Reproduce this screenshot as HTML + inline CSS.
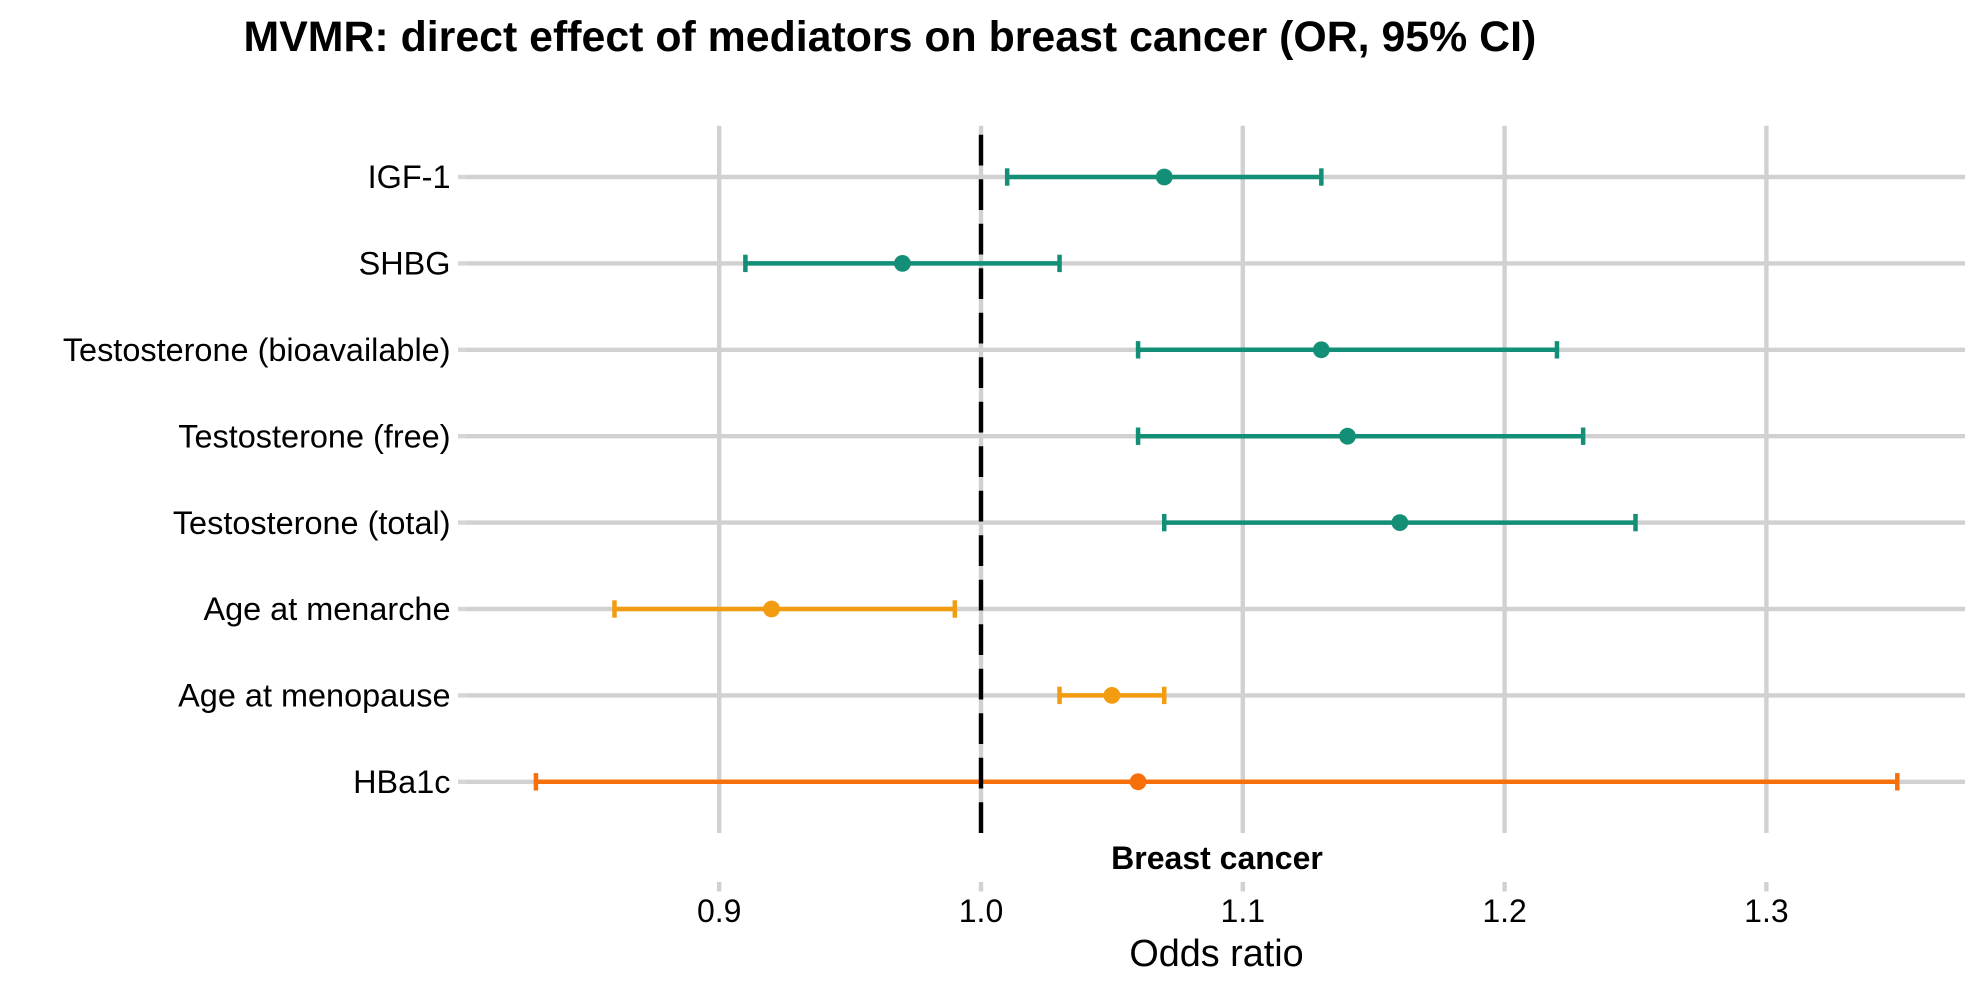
<!DOCTYPE html>
<html lang="en">
<head>
<meta charset="utf-8">
<title>MVMR forest plot</title>
<style>
  html, body { margin: 0; padding: 0; background: #ffffff; }
  body { width: 1984px; height: 992px; overflow: hidden; }
  svg { display: block; }
  text { font-family: "Liberation Sans", Arial, sans-serif; fill: #000000; }
</style>
</head>
<body>
<svg id="chart" xmlns="http://www.w3.org/2000/svg" width="1984" height="992" viewBox="0 0 1984 992">
  <rect x="0" y="0" width="1984" height="992" fill="#ffffff"/>
  <g id="grid"></g>
  <g id="series"></g>
  <g id="ref"></g>
  <g id="yaxis"></g>
  <g id="xaxis"></g>
  <text x="243.5" y="51" font-size="42.85" font-weight="700">MVMR: direct effect of mediators on breast cancer (OR, 95% CI)</text>
  <text x="1217" y="869" font-size="32" font-weight="700" text-anchor="middle">Breast cancer</text>
  <text x="1216.5" y="966" font-size="37.8" text-anchor="middle">Odds ratio</text>
</svg>
<script>
const categories = ["IGF-1", "SHBG", "Testosterone (bioavailable)", "Testosterone (free)", "Testosterone (total)", "Age at menarche", "Age at menopause", "HBa1c"];
const estimates = [1.07, 0.97, 1.13, 1.14, 1.16, 0.92, 1.05, 1.06];
const lowerCI = [1.01, 0.91, 1.06, 1.06, 1.07, 0.86, 1.03, 0.83];
const upperCI = [1.13, 1.03, 1.22, 1.23, 1.25, 0.99, 1.07, 1.35];
const groups = ["hormone", "hormone", "hormone", "hormone", "hormone", "reproductive", "reproductive", "glycaemic"];
const xTicks = [0.9, 1.0, 1.1, 1.2, 1.3];
const referenceValue = 1.0;

const groupColors = { hormone: "#148F77", reproductive: "#F39C12", glycaemic: "#F76F0A" };
const NS = "http://www.w3.org/2000/svg";
const GRID = "#d1d1d1";
const xScale = function (v) { return 981 + (v - 1) * 2618; };
const yScale = function (i) { return 177 + i * 86.4; };
const slug = function (s) { return s.toLowerCase().replace(/[^a-z0-9]+/g, "-").replace(/^-|-$/g, ""); };

function line(parent, x1, y1, x2, y2, color, width) {
  const el = document.createElementNS(NS, "line");
  el.setAttribute("x1", x1);
  el.setAttribute("y1", y1);
  el.setAttribute("x2", x2);
  el.setAttribute("y2", y2);
  el.setAttribute("stroke", color);
  el.setAttribute("stroke-width", width);
  parent.appendChild(el);
  return el;
}
function label(parent, x, y, size, anchor, content) {
  const el = document.createElementNS(NS, "text");
  el.setAttribute("x", x);
  el.setAttribute("y", y);
  el.setAttribute("font-size", size);
  el.setAttribute("text-anchor", anchor);
  el.textContent = content;
  parent.appendChild(el);
  return el;
}

const gridG = document.getElementById("grid");
const seriesG = document.getElementById("series");
const refG = document.getElementById("ref");
const yG = document.getElementById("yaxis");
const xG = document.getElementById("xaxis");

xTicks.forEach(function (t) {
  const x = xScale(t);
  const name = t.toFixed(1).replace(".", "-");
  const g = line(gridG, x, 125.7, x, 833, GRID, 4.4);
  
  
  const tick = line(xG, x, 882, x, 891.5, GRID, 4.4);
  
  
  const txt = label(xG, x, 922, 32, "middle", t.toFixed(1));
  
  
});

categories.forEach(function (c, i) {
  const y = yScale(i);
  const name = slug(c);
  const g = line(gridG, 467, y, 1965, y, GRID, 4.4);
  
  
  const tick = line(yG, 458, y, 467, y, "#d6d6d6", 4.4);
  
  
  const txt = label(yG, 450.5, y + 11.2, 32.45, "end", c);
  
  

  const color = groupColors[groups[i]];
  const xl = xScale(lowerCI[i]);
  const xh = xScale(upperCI[i]);
  const bar = line(seriesG, xl, y, xh, y, color, 4.5);
  
  
  const capL = line(seriesG, xl, y - 8.7, xl, y + 8.7, color, 4.5);
  
  
  const capH = line(seriesG, xh, y - 8.7, xh, y + 8.7, color, 4.5);
  
  
  const pt = document.createElementNS(NS, "circle");
  pt.setAttribute("cx", xScale(estimates[i]));
  pt.setAttribute("cy", y);
  pt.setAttribute("r", 8.4);
  pt.setAttribute("fill", color);
  
  
  seriesG.appendChild(pt);
});

const refLine = line(refG, xScale(referenceValue), 833, xScale(referenceValue), 125.7, "#000000", 4.4);
refLine.setAttribute("stroke-dasharray", "30.8 13.7");


</script>
</body>
</html>
